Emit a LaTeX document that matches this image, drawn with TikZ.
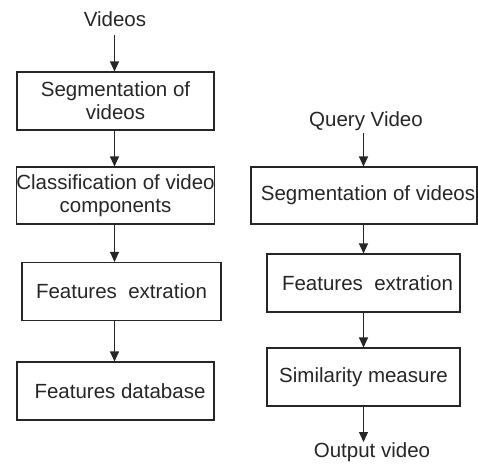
\documentclass[tikz,border=0pt]{standalone}
\usepackage{fontspec}
\setmainfont{Liberation Sans}
\usetikzlibrary{arrows.meta}
\definecolor{ink}{HTML}{262626}
\tikzset{
  box/.style={draw=ink, line width=1.1pt, rectangle, inner sep=0pt, align=center,
    text=ink, font=\fontsize{20.5}{23}\selectfont},
  lbl/.style={inner sep=0pt, text=ink, font=\fontsize{20.5}{23}\selectfont},
  arr/.style={draw=ink, line width=1.1pt, -{Triangle[length=10pt,width=9pt]}}
}
\begin{document}
\begin{tikzpicture}[x=1pt,y=-1pt]
\useasboundingbox (0,0) rectangle (478,466);
% left column
\node[lbl] (videos) at (115,19) {Videos};
\node[box, minimum width=197pt, minimum height=58pt] (b1) at (115.5,101) {Segmentation of\\videos};
\node[box, minimum width=197pt, minimum height=57pt] (b2) at (115.5,195.5) {Classification of video\\components};
\node[box, minimum width=199pt, minimum height=58pt] (b3) at (121.5,291.5) {Features\ \ extration};
\node[box, minimum width=197pt, minimum height=58pt] (b4) at (115.5,391) {\hspace{9pt}Features database};
\coordinate (v0) at (114.5,35);
\draw[arr] (v0) -- (v0 |- b1.north);
\draw[arr] (b1.south -| v0) -- (b2.north -| v0);
\draw[arr] (b2.south -| v0) -- (b3.north -| v0);
\draw[arr] (b3.south -| v0) -- (b4.north -| v0);
% right column
\node[lbl] (query) at (366,121) {Query Video};
\node[box, minimum width=226pt, minimum height=57pt] (r1) at (364,195.5) {\hspace{8pt}Segmentation of videos};
\node[box, minimum width=193pt, minimum height=58pt] (r2) at (363.5,283) {\hspace{8pt}Features\ \ extration};
\node[box, minimum width=193pt, minimum height=58pt] (r3) at (363.5,377) {Similarity measure};
\node[lbl] (out) at (372,452) {Output video};
\coordinate (q0) at (363.5,133);
\coordinate (q1) at (363.5,442);
\draw[arr] (q0) -- (q0 |- r1.north);
\draw[arr] (r1.south -| q0) -- (r2.north -| q0);
\draw[arr] (r2.south -| q0) -- (r3.north -| q0);
\draw[arr] (r3.south -| q0) -- (q1);
\end{tikzpicture}
\end{document}
